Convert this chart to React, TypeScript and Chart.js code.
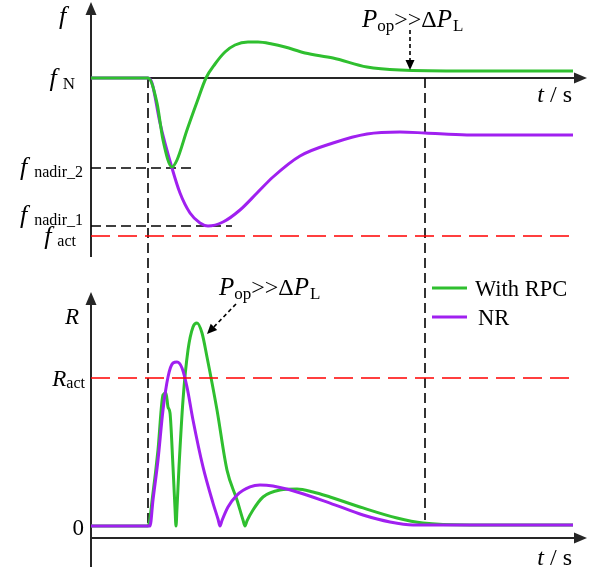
import React, { useEffect, useRef } from "react";
import { Chart, registerables } from "chart.js";

Chart.register(...registerables);

const FONT = '"Liberation Serif", "Times New Roman", serif';
const GREEN = "#2fbf2f";
const PURPLE = "#a020f0";
const RED = "#ff0000";
const AXIS = "#262626";

// ---- Top panel: frequency f (Hz) over time t (arbitrary s) ----
const tGreenTop = [0, 1.14, 1.32, 1.44, 1.62, 1.72, 1.92, 2.12, 2.3, 2.48, 2.68, 2.88, 3.14, 3.34, 3.62, 3.88, 4.28, 4.84, 5.52, 6.18, 7.52, 9.64];
const fGreen = [50, 50, 49.875, 49.69, 49.555, 49.59, 49.74, 49.88, 50.0, 50.07, 50.13, 50.165, 50.18, 50.18, 50.17, 50.155, 50.125, 50.1, 50.055, 50.04, 50.035, 50.035];

const tPurpleTop = [0, 1.14, 1.22, 1.38, 1.62, 1.78, 1.98, 2.18, 2.34, 2.64, 2.98, 3.32, 3.64, 4.18, 4.84, 5.52, 6.18, 6.68, 7.52, 9.64];
const fPurple = [50, 50, 49.975, 49.775, 49.55, 49.425, 49.325, 49.275, 49.26, 49.28, 49.34, 49.425, 49.505, 49.61, 49.675, 49.72, 49.73, 49.725, 49.715, 49.715];

const F_N = 50;
const F_NADIR_2 = 49.55;
const F_NADIR_1 = 49.26;
const F_ACT = 49.21;
const T_NADIR_2_END = 2.04;
const T_NADIR_1_END = 2.82;

// ---- Bottom panel: R over time ----
const tGreenR = [0, 1.14, 1.24, 1.34, 1.44, 1.5, 1.54, 1.58, 1.64, 1.68, 1.7, 1.72, 1.76, 1.84, 1.94, 2.04, 2.12, 2.22, 2.32, 2.52, 2.72, 2.92, 3.04, 3.08, 3.12, 3.24, 3.44, 3.78, 4.12, 4.44, 4.78, 5.44, 6.12, 6.64, 7.58, 9.64];
const rGreen = [0, 0, 0.223, 0.514, 0.885, 0.899, 0.804, 0.764, 0.399, 0.12, 0, 0.12, 0.399, 0.851, 1.189, 1.345, 1.372, 1.304, 1.142, 0.784, 0.378, 0.176, 0.04, 0, 0.034, 0.108, 0.196, 0.243, 0.25, 0.23, 0.196, 0.122, 0.054, 0.02, 0.007, 0.007];

const tPurpleR = [0, 1.18, 1.24, 1.34, 1.44, 1.54, 1.64, 1.72, 1.82, 1.92, 2.04, 2.24, 2.44, 2.54, 2.58, 2.62, 2.74, 2.92, 3.18, 3.38, 3.64, 4.12, 4.78, 5.44, 5.98, 6.44, 9.64];
const rPurple = [0, 0, 0.176, 0.446, 0.784, 1.007, 1.101, 1.108, 1.068, 0.939, 0.716, 0.399, 0.155, 0.047, 0, 0.037, 0.128, 0.209, 0.264, 0.277, 0.27, 0.23, 0.155, 0.074, 0.027, 0.007, 0.007];

const R_ACT = 1.0;
const T_END = 9.64;
const T_DIST = 1.14; // disturbance instant
const T_SETTLE = 6.68; // settling instant

// axis extents
const T_AXIS_END = 9.92;
const F_AXIS_TOP = 50.38;
const F_AXIS_BOTTOM = 49.105;
const R_AXIS_TOP = 1.581;
const R_AXIS_BOTTOM = -0.277;
const R_XAXIS = -0.081;

const legendLabels = ["With RPC", "NR"];

const zip = (xs: number[], ys: number[]) => xs.map((x, i) => ({ x, y: ys[i] }));

type Part = { text: string; italic?: boolean; size: number; dy?: number; gap?: number };

function richWidth(ctx: CanvasRenderingContext2D, parts: Part[]) {
  let w = 0;
  for (const p of parts) {
    ctx.font = `${p.italic ? "italic " : ""}${p.size}px ${FONT}`;
    w += (p.gap || 0) + ctx.measureText(p.text).width;
  }
  return w;
}

function drawRich(ctx: CanvasRenderingContext2D, parts: Part[], x: number, y: number, align: "left" | "right" | "center" = "left") {
  const w = richWidth(ctx, parts);
  let cx = align === "left" ? x : align === "right" ? x - w : x - w / 2;
  ctx.textAlign = "left";
  ctx.textBaseline = "alphabetic";
  for (const p of parts) {
    ctx.font = `${p.italic ? "italic " : ""}${p.size}px ${FONT}`;
    cx += p.gap || 0;
    ctx.fillText(p.text, cx, y + (p.dy || 0));
    cx += ctx.measureText(p.text).width;
  }
}

function arrowHead(ctx: CanvasRenderingContext2D, tx: number, ty: number, ang: number, len: number, half: number) {
  ctx.beginPath();
  ctx.moveTo(tx, ty);
  ctx.lineTo(tx - len * Math.cos(ang) + half * Math.sin(ang), ty - len * Math.sin(ang) - half * Math.cos(ang));
  ctx.lineTo(tx - len * Math.cos(ang) - half * Math.sin(ang), ty - len * Math.sin(ang) + half * Math.cos(ang));
  ctx.closePath();
  ctx.fill();
}

function dashedArrow(ctx: CanvasRenderingContext2D, x1: number, y1: number, x2: number, y2: number) {
  const ang = Math.atan2(y2 - y1, x2 - x1);
  const len = 10;
  ctx.save();
  ctx.strokeStyle = "#000";
  ctx.fillStyle = "#000";
  ctx.lineWidth = 1.6;
  ctx.setLineDash([4, 3]);
  ctx.beginPath();
  ctx.moveTo(x1, y1);
  ctx.lineTo(x2 - len * Math.cos(ang), y2 - len * Math.sin(ang));
  ctx.stroke();
  ctx.setLineDash([]);
  arrowHead(ctx, x2, y2, ang, len, 4.5);
  ctx.restore();
}

function fPix(Y: any, v: number) {
  return Y.getPixelForValue(v);
}

const diagramPlugin = {
  id: "diagram",
  beforeDatasetsDraw(chart: any) {
    const { ctx, scales } = chart;
    const X = scales.x, YF = scales.yF, YR = scales.yR;
    const x0 = X.getPixelForValue(0);
    const xEnd = X.getPixelForValue(T_AXIS_END);
    ctx.save();
    ctx.strokeStyle = AXIS;
    ctx.fillStyle = AXIS;
    ctx.lineWidth = 2;
    ctx.lineCap = "butt";
    // top panel axes
    const fTop = YF.getPixelForValue(F_AXIS_TOP);
    const fBot = YF.getPixelForValue(F_AXIS_BOTTOM);
    const fN = YF.getPixelForValue(F_N);
    ctx.beginPath();
    ctx.moveTo(x0, fBot);
    ctx.lineTo(x0, fTop + 10);
    ctx.moveTo(x0 - 1, fN);
    ctx.lineTo(xEnd - 10, fN);
    ctx.stroke();
    arrowHead(ctx, x0, fTop, -Math.PI / 2, 13, 5.5);
    arrowHead(ctx, xEnd, fN, 0, 13, 5.5);
    // bottom panel axes
    const rTop = YR.getPixelForValue(R_AXIS_TOP);
    const rBot = YR.getPixelForValue(R_AXIS_BOTTOM);
    const rX = YR.getPixelForValue(R_XAXIS);
    ctx.beginPath();
    ctx.moveTo(x0, rBot);
    ctx.lineTo(x0, rTop + 10);
    ctx.moveTo(x0 - 1, rX);
    ctx.lineTo(xEnd - 10, rX);
    ctx.stroke();
    arrowHead(ctx, x0, rTop, -Math.PI / 2, 13, 5.5);
    arrowHead(ctx, xEnd, rX, 0, 13, 5.5);

    // vertical dashed markers spanning both panels
    ctx.strokeStyle = "#000";
    ctx.lineWidth = 1.6;
    ctx.setLineDash([10, 5]);
    const xd = X.getPixelForValue(T_DIST);
    const xs = X.getPixelForValue(T_SETTLE);
    ctx.beginPath();
    ctx.moveTo(xd, fN);
    ctx.lineTo(xd, YR.getPixelForValue(0));
    ctx.moveTo(xs, fN);
    ctx.lineTo(xs, YR.getPixelForValue(0.04));
    ctx.stroke();
    ctx.restore();
  },
  afterDatasetsDraw(chart: any) {
    const { ctx, scales } = chart;
    const X = scales.x, YF = scales.yF, YR = scales.yR;
    const x0 = X.getPixelForValue(0);
    ctx.save();
    ctx.fillStyle = "#000";
    const fBig = 26;
    const big = 23;
    const sub = 16;
    // top-left labels
    drawRich(ctx, [{ text: "f", italic: true, size: fBig }], x0 - 32, YF.getPixelForValue(F_AXIS_TOP) + 22, "left");
    drawRich(ctx, [{ text: "f", italic: true, size: fBig }, { text: "N", size: sub + 1, dy: 3, gap: 6 }], x0 - 16, fPix(YF, F_N) + 8, "right");
    drawRich(ctx, [{ text: "f", italic: true, size: fBig }, { text: "nadir_2", size: sub, dy: 2, gap: 7 }], x0 - 8, fPix(YF, F_NADIR_2) + 7, "right");
    drawRich(ctx, [{ text: "f", italic: true, size: fBig }, { text: "nadir_1", size: sub, dy: 2, gap: 7 }], x0 - 8, fPix(YF, F_NADIR_1) - 3, "right");
    drawRich(ctx, [{ text: "f", italic: true, size: fBig }, { text: "act", size: sub, dy: 2, gap: 6 }], x0 - 15, fPix(YF, F_ACT) + 8, "right");
    // t / s labels
    const tsParts: Part[] = [{ text: "t", italic: true, size: 24 }, { text: " / s", size: 24 }];
    drawRich(ctx, tsParts, X.getPixelForValue(T_AXIS_END) - 15, fPix(YF, F_N) + 24, "right");
    drawRich(ctx, tsParts, X.getPixelForValue(T_AXIS_END) - 15, YR.getPixelForValue(R_XAXIS) + 27, "right");
    // bottom-left labels
    drawRich(ctx, [{ text: "R", italic: true, size: big }], x0 - 26, YR.getPixelForValue(R_AXIS_TOP) + 32, "left");
    drawRich(ctx, [{ text: "R", italic: true, size: big }, { text: "act", size: sub, dy: 2 }], x0 - 6, YR.getPixelForValue(R_ACT) + 8, "right");
    drawRich(ctx, [{ text: "0", size: big }], x0 - 7, YR.getPixelForValue(0) + 9, "right");

    // annotations P_op >> ΔP_L
    const pParts: Part[] = [
      { text: "P", italic: true, size: 25 },
      { text: "op", size: 17, dy: 4 },
      { text: ">>", size: 24 },
      { text: "\u0394", size: 24 },
      { text: "P", italic: true, size: 25 },
      { text: "L", size: 17, dy: 4, gap: 1 },
    ];
    drawRich(ctx, pParts, X.getPixelForValue(5.42), fPix(YF, 50.255), "left");
    dashedArrow(ctx, X.getPixelForValue(6.38), fPix(YF, 50.24), X.getPixelForValue(6.38), fPix(YF, 50.04));
    drawRich(ctx, pParts, X.getPixelForValue(2.56), YR.getPixelForValue(1.561), "left");
    dashedArrow(ctx, X.getPixelForValue(2.9), YR.getPixelForValue(1.5), X.getPixelForValue(2.32), YR.getPixelForValue(1.297));

    // legend
    const lx1 = X.getPixelForValue(6.82), lx2 = X.getPixelForValue(7.52);
    const legendColors = [GREEN, PURPLE];
    const legendR = [1.608, 1.412];
    legendLabels.forEach((lab, i) => {
      const ly = YR.getPixelForValue(legendR[i]);
      ctx.strokeStyle = legendColors[i];
      ctx.lineWidth = 3;
      ctx.beginPath();
      ctx.moveTo(lx1, ly);
      ctx.lineTo(lx2, ly);
      ctx.stroke();
      ctx.fillStyle = "#000";
      drawRich(ctx, [{ text: lab, size: 22.5 }], X.getPixelForValue(i === 0 ? 7.68 : 7.74), ly + 8, "left");
    });
    ctx.restore();
  },
};

export default function App() {
  const ref = useRef<HTMLCanvasElement | null>(null);
  useEffect(() => {
    if (!ref.current) return;
    const hline = (t1: number, t2: number, v: number) => [
      { x: t1, y: v },
      { x: t2, y: v },
    ];
    const chart = new Chart(ref.current, {
      type: "line",
      data: {
        datasets: [
          { label: "f With RPC", data: zip(tGreenTop, fGreen), yAxisID: "yF", borderColor: GREEN, borderWidth: 3, order: 1 },
          { label: "f NR", data: zip(tPurpleTop, fPurple), yAxisID: "yF", borderColor: PURPLE, borderWidth: 3, order: 2 },
          { label: "R NR", data: zip(tPurpleR, rPurple), yAxisID: "yR", borderColor: PURPLE, borderWidth: 3, order: 1 },
          { label: "R With RPC", data: zip(tGreenR, rGreen), yAxisID: "yR", borderColor: GREEN, borderWidth: 3, order: 2 },
          { label: "f nadir 2", data: hline(0, T_NADIR_2_END, F_NADIR_2), yAxisID: "yF", borderColor: "#000", borderWidth: 1.6, borderDash: [10, 5], order: 3 },
          { label: "f nadir 1", data: hline(0, T_NADIR_1_END, F_NADIR_1), yAxisID: "yF", borderColor: "#000", borderWidth: 1.6, borderDash: [10, 5], order: 3 },
          { label: "f act", data: hline(0, T_END, F_ACT), yAxisID: "yF", borderColor: RED, borderWidth: 1.6, borderDash: [19, 8], order: 3 },
          { label: "R act", data: hline(0, T_END, R_ACT), yAxisID: "yR", borderColor: RED, borderWidth: 1.6, borderDash: [19, 8], order: 0 },
        ] as any,
      },
      options: {
        animation: false,
        responsive: true,
        maintainAspectRatio: false,
        layout: { padding: 0 },
        parsing: false as any,
        elements: {
          point: { radius: 0 },
          line: { cubicInterpolationMode: "monotone", fill: false },
        },
        plugins: { legend: { display: false }, tooltip: { enabled: false } },
        scales: {
          x: { type: "linear", min: -1.82, max: 10.24, display: false },
          yF: { type: "linear", min: 47.525, max: 50.39, display: false },
          yR: { type: "linear", min: -0.3176, max: 3.5541, display: false },
        },
      },
      plugins: [diagramPlugin],
    });
    return () => chart.destroy();
  }, []);
  return (
    <div style={{ position: "absolute", left: 0, top: 0, width: 603, height: 573, background: "#fff" }}>
      <canvas ref={ref} />
    </div>
  );
}
